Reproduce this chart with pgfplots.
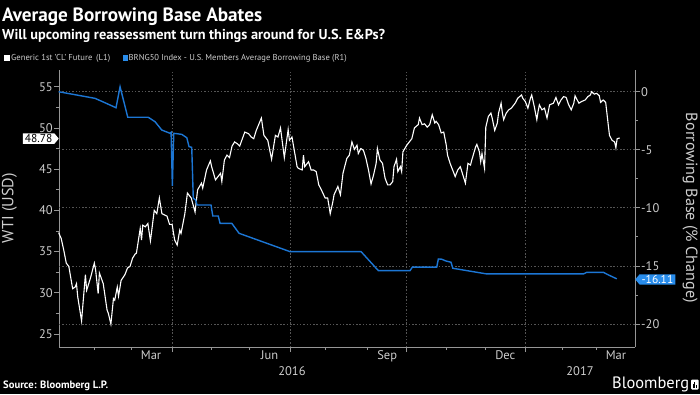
\documentclass[border=0pt]{standalone}
\usepackage{fontspec}
\setmainfont{PT Sans}
\usepackage{graphicx}
\usepackage{pgfplots}
\usepackage{pgfplotstable}
\pgfplotsset{compat=1.18}
\usetikzlibrary{shapes.symbols}
\definecolor{bbblue}{RGB}{28,118,212}
\definecolor{cblue}{RGB}{40,140,235}
\definecolor{txt}{RGB}{205,205,205}
\definecolor{axgray}{RGB}{150,150,150}
\definecolor{grd}{RGB}{85,85,85}

% WTI front-month future (USD), x = day index from 1 Jan 2016
\pgfplotstableread{
d v
3 37.3
5 36.6
7 35.2
9 33.6
11 33.2
14 30.5
16 30.7
17 31.1
18 29.5
21 26.6
24 32.2
25 30.3
28 31.8
31 33.6
32 32.8
34 29.9
35 32.4
38 31.1
41 27.9
42 27.5
44 26.2
46 29.3
47 29.1
49 30.7
50 29.6
52 31.5
55 32.2
57 33.0
59 33.2
61 34.2
63 34.7
64 34.8
67 37.8
68 36.4
69 38.2
71 38.0
73 38.4
75 36.3
78 40.0
80 39.6
82 41.5
84 39.6
88 39.3
90 38.3
92 38.3
94 36.4
96 35.8
98 37.6
99 37.2
102 39.6
104 42.1
107 41.5
110 39.8
112 42.5
115 43.3
116 42.7
119 44.9
122 46.0
123 45.3
126 43.7
128 44.1
130 44.5
131 43.5
133 46.1
135 46.7
137 46.4
139 47.8
141 48.3
143 48.1
145 47.8
149 49.5
152 49.3
154 48.9
156 48.7
158 49.7
162 51.2
164 49.1
167 48.5
170 46.2
173 49.1
175 48.9
177 50.0
180 46.4
183 49.8
184 48.5
186 48.9
188 47.1
190 45.3
191 45.1
194 44.9
195 46.7
196 45.3
199 45.9
201 44.9
203 44.9
205 44.7
207 43.1
209 42.5
212 41.5
214 41.5
216 39.6
218 41.0
219 41.9
222 42.9
224 41.9
226 44.5
229 46.3
231 46.7
233 48.3
235 47.4
237 47.9
238 46.9
240 47.5
242 47.3
244 46.3
246 44.9
248 43.2
250 44.3
252 45.7
253 47.5
255 46.1
257 45.7
259 43.9
261 43.1
263 43.1
265 43.5
266 45.3
268 46.2
269 44.7
271 45.3
272 44.7
273 47.1
276 47.9
279 48.5
280 48.7
282 50.0
285 50.4
286 51.2
288 50.4
290 50.5
292 50.1
294 50.4
296 51.6
298 50.6
299 50.8
301 50.4
303 49.4
305 49.5
307 47.9
308 46.7
310 45.7
312 44.9
314 44.1
316 44.9
318 45.3
320 44.3
322 43.3
324 45.7
326 45.5
327 46.1
330 47.7
331 48.0
333 47.1
334 45.9
335 46.9
337 45.1
338 50.1
340 51.4
342 51.8
343 51.2
345 49.7
347 50.6
348 51.8
350 53.0
351 51.8
352 51.0
354 51.8
356 52.2
358 52.4
361 53.0
363 53.6
366 54.0
367 53.6
369 53.2
371 52.4
373 53.6
374 54.0
376 52.6
378 51.0
379 52.0
380 52.8
382 52.2
384 52.4
386 51.2
388 52.8
391 53.0
393 53.7
395 52.8
397 53.4
399 53.8
401 53.7
403 52.8
405 52.2
407 53.0
408 53.9
411 53.0
413 53.2
416 53.4
418 53.8
420 54.0
421 54.4
423 54.1
425 54.2
427 53.9
428 53.1
430 53.4
432 53.1
434 50.4
435 49.1
437 48.5
439 48.3
440 47.6
441 48.7
443 48.78
}\wti

% BRNG50 average borrowing base, % change
\pgfplotstableread{
d r
3 0
31.5 -0.57
39.4 -0.95
48 -1.38
51.2 0.43
57.2 -2.2
73.3 -2.2
78.6 -2.58
83.9 -3.3
90.4 -3.58
91.2 -3.5
92.2 -8.1
93.3 -3.58
99.5 -3.67
103.5 -3.96
105.3 -4.73
107.4 -4.79
108.6 -9.17
110.5 -9.32
111.5 -9.75
122.5 -9.75
123.9 -10.7
128.2 -10.7
129.6 -11.33
138.8 -11.33
144.5 -12.19
184.5 -13.77
240.2 -13.77
253.7 -15.4
278.6 -15.4
280.4 -15.1
299.5 -15.1
300.8 -14.4
303.4 -14.42
306.6 -14.57
310.7 -14.68
312.1 -15.2
316.5 -15.28
338.7 -15.69
414.5 -15.69
417.2 -15.55
430.2 -15.55
434.1 -15.77
440.7 -16.11
}\bb

\begin{document}
\begin{tikzpicture}
\useasboundingbox (0,0) rectangle (700pt,394pt);
\fill[black] (0,0) rectangle (700pt,394pt);

% titles
\node[anchor=base west, inner sep=0, text=white] at (2pt,372.5pt) {\resizebox{260pt}{!}{\bfseries\fontsize{20}{20}\selectfont Average Borrowing Base Abates}};
\node[anchor=base west, inner sep=0, text=white] at (2pt,354.7pt) {\resizebox{383pt}{!}{\bfseries\fontsize{14}{14}\selectfont Will upcoming reassessment turn things around for U.S. E\&Ps?}};

% legend
\fill[white] (4pt,332.5pt) rectangle (9.5pt,338.5pt);
\node[anchor=west, inner sep=0, text=txt] at (11pt,335.5pt) {\resizebox{99pt}{!}{\fontsize{9}{9}\selectfont Generic 1st 'CL' Future\hspace{4pt}(L1)}};
\fill[cblue] (122.5pt,332.5pt) rectangle (128pt,338.5pt);
\node[anchor=west, inner sep=0, text=txt] at (128.5pt,335.5pt) {\resizebox{218pt}{!}{\fontsize{9}{9}\selectfont BRNG50 Index - U.S. Members Average Borrowing Base (R1)}};

% axis titles
\node[rotate=90, inner sep=0, text=txt] at (9.5pt,186pt) {\resizebox{70pt}{!}{\fontsize{14}{14}\selectfont WTI (USD)}};
\node[rotate=-90, inner sep=0, text=txt] at (690pt,186pt) {\resizebox{190pt}{!}{\fontsize{14}{14}\selectfont Borrowing Base (\% Change)}};

\begin{axis}[
  at={(59pt,47pt)}, anchor=south west, scale only axis,
  width=576pt, height=277pt,
  xmin=3.3, xmax=455, ymin=23.42, ymax=57.03,
  axis x line*=bottom, axis y line*=left,
  axis line style={draw=axgray, line width=0.8pt, -},
  every tick/.style={draw=axgray, line width=0.8pt},
  tick align=outside,
  major tick length=5pt, minor tick length=3pt,
  xtick={92.5,184.5,276.0,369.2},
  xticklabels={},
  minor xtick={31,59.8,122.5,152.3,212.5,245.4,307.4,337.4,398.0,425.0},
  xmajorgrids,
  major grid style={draw=grd, dash pattern=on 1.5pt off 1.8pt, line width=0.7pt},
  extra x ticks={75.5,168.4,260.7,353.3,440.1},
  extra x tick labels={Mar,Jun,Sep,Dec,Mar},
  extra x tick style={major tick length=0pt, grid=none},
  ytick={25,30,...,55},
  yticklabels={25,30,35,40,45,50,55},
  minor y tick num=1,
  extra y ticks={54.40,47.35,40.31,33.26,26.21},
  extra y tick labels={},
  extra y tick style={major tick length=0pt, grid=major},
  ticklabel style={text=txt, inner sep=1pt, font=\fontsize{12.5}{12.5}\selectfont},
  yticklabel style={inner ysep=0pt},
  xticklabel style={yshift=-2.5pt},
  clip=false,
]
\addplot[white, line width=1.1pt] table[x=d, y=v] {\wti};
\node[signal, signal to=east, signal pointer angle=100, fill=white, text=black, anchor=east, inner xsep=2pt, inner ysep=1pt, font=\fontsize{11.5}{11.5}\selectfont] at (axis cs:3.3,48.78) [yshift=-0.6pt] {48.78};
\node[text=txt, font=\fontsize{12.5}{12.5}\selectfont, inner sep=1pt] at (axis cs:186.0,23.42) [yshift=-24pt] {2016};
\node[text=txt, font=\fontsize{12.5}{12.5}\selectfont, inner sep=1pt] at (axis cs:411.9,23.42) [yshift=-24pt] {2017};
\draw[axgray, line width=0.6pt] (axis cs:369.2,23.42) ++(0,-15pt) -- ++(0,-18pt);
\end{axis}

\begin{axis}[
  at={(59pt,47pt)}, anchor=south west, scale only axis,
  width=576pt, height=277pt,
  xmin=3.3, xmax=455, ymin=-21.98, ymax=1.87,
  hide x axis,
  axis y line*=right,
  axis line style={draw=axgray, line width=0.8pt, -},
  every tick/.style={draw=axgray, line width=0.8pt},
  tick align=outside,
  major tick length=5pt, minor tick length=3pt,
  ytick={-20,-15,...,0},
  yticklabels={-20,-15,-10,-5,0},
  minor y tick num=1,
  yticklabel style={text=txt, inner xsep=1pt, inner ysep=0pt, font=\fontsize{12.5}{12.5}\selectfont},
  clip=false,
]
\addplot[bbblue, line width=1.4pt] table[x=d, y=r] {\bb};
\node[signal, signal to=west, signal pointer angle=100, fill=cblue, text=white, anchor=west, inner xsep=2pt, inner ysep=1pt, font=\fontsize{11.5}{11.5}\selectfont] at (axis cs:455,-16.11) [yshift=-0.6pt] {-16.11};
\end{axis}

% footer
\node[anchor=base west, inner sep=0, text=white] at (3pt,5.5pt) {\resizebox{105pt}{!}{\bfseries\fontsize{11}{11}\selectfont Source: Bloomberg L.P.}};
\node[anchor=base west, inner sep=0, text=white] at (612pt,5.5pt) {\resizebox{77pt}{!}{\fontsize{15}{15}\selectfont Bloomberg}};
\fill[white, rounded corners=1pt] (691pt,4.5pt) rectangle (698.5pt,14.5pt);
\fill[black] (692.6pt,6pt) rectangle (693.6pt,10pt);
\fill[black] (694.3pt,6pt) rectangle (695.3pt,12.5pt);
\fill[black] (696pt,6pt) rectangle (697pt,9pt);
\end{tikzpicture}
\end{document}
